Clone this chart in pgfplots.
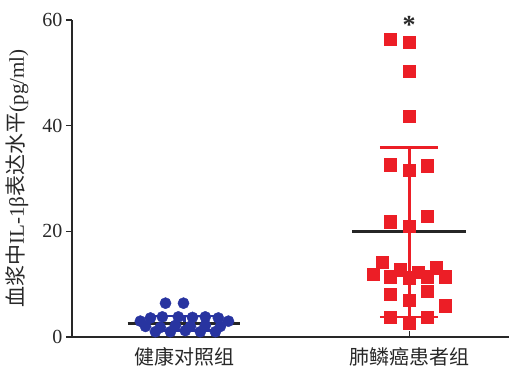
\documentclass[border=0pt]{standalone}
\usepackage{fontspec}
\setmainfont{Liberation Serif}
\newfontfamily\cjk{Noto Sans CJK SC}
\usepackage{pgfplots}
\pgfplotsset{compat=1.18}
\definecolor{myblue}{RGB}{40,52,160}
\definecolor{myred}{RGB}{236,30,38}
\definecolor{axgray}{RGB}{40,40,40}
\begin{document}
\begin{tikzpicture}
\begin{axis}[name=ax, scale only axis, width=437pt, height=317pt,
  xmin=-0.5, xmax=1.444, ymin=0, ymax=60,
  axis lines=left, axis line style={-, line width=1.3pt, color=axgray},
  xtick={0,1}, xticklabels={{\cjk 健康对照组},{\cjk 肺鳞癌患者组}},
  ytick={0,20,40,60},
  tick align=outside, major tick length=6pt,
  tick style={line width=1.2pt, color=axgray},
  x tick style={yshift=6pt},
  ticklabel style={font=\fontsize{20}{24}\selectfont, text=axgray},
  /pgf/number format/assume math mode=true,
  xticklabel style={yshift=-1pt},
  ylabel={{\cjk 血浆中}IL-1β{\cjk 表达水平}(pg/ml)},
  ylabel style={font=\fontsize{21}{24}\selectfont, text=axgray, at={(axis description cs:0,0.5)}, anchor=south, yshift=40pt},
  clip=false]
% healthy control
\addplot[only marks, mark=*, mark size=5.6pt, color=myblue, mark options={fill=myblue, draw=myblue}] coordinates {
(-0.196,3.0) (-0.151,3.6) (-0.098,3.8) (-0.027,3.8) (0.036,3.7) (0.093,3.8) (0.151,3.6) (0.196,3.0)
(-0.173,2.0) (-0.107,1.8) (-0.040,2.2) (0.027,2.0) (0.093,2.2) (0.160,2.0)
(-0.129,1.0) (-0.062,1.0) (0.004,1.2) (0.071,1.0) (0.138,1.0)
(-0.084,6.4) (-0.004,6.4)
};
% blue error bar
\addplot[color=myblue, line width=2.4pt] coordinates {(0,1.2) (0,4.0)};
\addplot[color=myblue, line width=2.4pt] coordinates {(-0.13,4.0) (0.13,4.0)};
\addplot[color=myblue, line width=2.4pt] coordinates {(-0.13,1.2) (0.13,1.2)};
% patients
\addplot[only marks, mark=square*, mark size=6.2pt, color=myred, mark options={fill=myred, draw=myred}] coordinates {
(0.916,56.4) (1,55.8) (1,50.3) (1,41.8)
(0.916,32.6) (1,31.6) (1.08,32.4)
(0.916,21.8) (1.08,22.9) (1,21.0)
(0.88,14.2) (0.84,11.9) (0.916,11.4) (0.96,12.7) (1,11.2) (1.04,12.3) (1.08,11.4) (1.12,13.1) (1.16,11.4)
(0.916,8.1) (1.08,8.7) (1,7.0) (1.16,5.9)
(0.916,3.8) (1.08,3.8) (1,2.7)
};
% red error bar
\addplot[color=myred, line width=2.8pt] coordinates {(1,3.8) (1,35.8)};
\addplot[color=myred, line width=2.8pt] coordinates {(0.87,35.8) (1.13,35.8)};
\addplot[color=myred, line width=2.8pt] coordinates {(0.87,3.8) (1.13,3.8)};
% means
\addplot[color=black!85, line width=3.2pt] coordinates {(-0.253,2.6) (0.249,2.6)};
\addplot[color=black!85, line width=3.2pt] coordinates {(0.746,19.9) (1.254,19.9)};
\node[font=\fontsize{26}{28}\selectfont\bfseries, text=axgray] at (axis cs:1,59.0) {*};
\end{axis}
\pgfresetboundingbox
\path[use as bounding box] ([xshift=-72pt,yshift=-32pt]ax.south west) rectangle ([xshift=2pt,yshift=20pt]ax.north east);
\end{tikzpicture}
\end{document}
